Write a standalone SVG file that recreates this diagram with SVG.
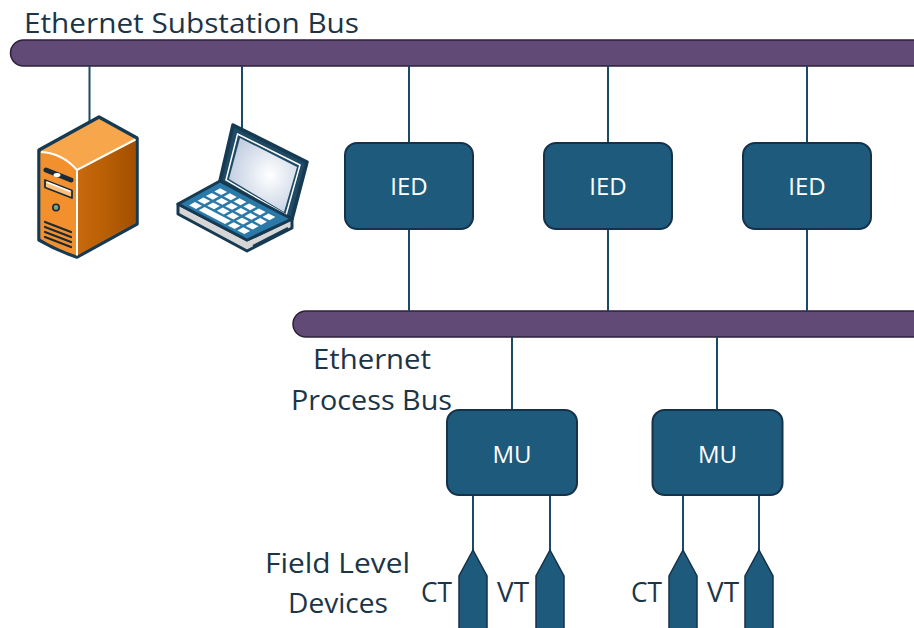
<svg xmlns="http://www.w3.org/2000/svg" width="914" height="628" viewBox="0 0 914 628">
  <defs>
    <style>
      .bus { fill: #614a75; stroke: #2c2138; stroke-width: 1.5; }
      .box { fill: #1e5a7c; stroke: #15324a; stroke-width: 2; }
      .wire { stroke: #1b4a66; stroke-width: 2; fill: none; }
      .lbl { font-family: "Open Sans", "Liberation Sans", sans-serif; fill: #1b3446; }
      .inbox { font-family: "Open Sans", "Liberation Sans", sans-serif; fill: #ffffff; font-size: 24px; text-anchor: middle; }
      .sensor { fill: #1e5a7c; stroke: #15324a; stroke-width: 1.5; }
      .dark { fill: none; stroke: #1b2a35; stroke-linecap: round; }
    </style>
    <linearGradient id="sideGrad" x1="0" y1="0" x2="1" y2="0">
      <stop offset="0" stop-color="#c96a0e"/>
      <stop offset="0.5" stop-color="#b85e04"/>
      <stop offset="1" stop-color="#a14f00"/>
    </linearGradient>
    <radialGradient id="screenGrad" cx="0.6" cy="0.5" r="0.6">
      <stop offset="0" stop-color="#ffffff"/>
      <stop offset="1" stop-color="#c3cfe2"/>
    </radialGradient>
  </defs>

  <!-- buses -->
  <g id="substation-bus">
    <rect class="bus" x="10.5" y="40" width="940" height="26" rx="13"/>
    <text class="lbl" x="24" y="33" font-size="27" textLength="335" lengthAdjust="spacingAndGlyphs">Ethernet Substation Bus</text>
  </g>
  <g id="process-bus">
    <rect class="bus" x="293" y="311" width="660" height="26" rx="13"/>
    <text class="lbl" x="313" y="369" font-size="27" textLength="118" lengthAdjust="spacingAndGlyphs">Ethernet</text>
    <text class="lbl" x="291" y="410" font-size="27" textLength="161" lengthAdjust="spacingAndGlyphs">Process Bus</text>
  </g>

  <!-- connectors -->
  <g id="connectors">
    <line class="wire" x1="89.5" y1="66" x2="89.5" y2="123"/>
    <line class="wire" x1="242" y1="66" x2="242" y2="128"/>
    <line class="wire" x1="409" y1="66" x2="409" y2="143"/>
    <line class="wire" x1="608" y1="66" x2="608" y2="143"/>
    <line class="wire" x1="807" y1="66" x2="807" y2="143"/>
    <line class="wire" x1="409" y1="229" x2="409" y2="311"/>
    <line class="wire" x1="608" y1="229" x2="608" y2="311"/>
    <line class="wire" x1="807" y1="229" x2="807" y2="311"/>
    <line class="wire" x1="512" y1="337" x2="512" y2="410"/>
    <line class="wire" x1="717" y1="337" x2="717" y2="410"/>
    <line class="wire" x1="473" y1="495" x2="473" y2="552"/>
    <line class="wire" x1="550" y1="495" x2="550" y2="552"/>
    <line class="wire" x1="683" y1="495" x2="683" y2="552"/>
    <line class="wire" x1="759" y1="495" x2="759" y2="552"/>
  </g>

  <!-- server tower -->
  <g id="server">
    <path d="M39,150 L99,117 L137,138 L137,224 L77,257 Q56,250 39,240 Z" fill="#f7a64c" stroke="#163a52" stroke-width="3.5" stroke-linejoin="round"/>
    <path d="M40.5,152 Q62,153 77,170 L77,255.5 Q56,248.5 40.5,238.5 Z" fill="#f3902e"/>
    <path d="M77,170 L135.5,139.5 L135.5,223 L77,255.5 Z" fill="url(#sideGrad)"/>
    <path d="M41,152 Q62,153 77,170 L135.5,139.5 M77,170 L77,255.5" fill="none" stroke="#ffffff" stroke-width="2"/>
    <line class="dark" x1="46" y1="170" x2="71" y2="180" stroke-width="5"/>
    <ellipse cx="57" cy="175" rx="3.5" ry="2" fill="#ffffff"/>
    <polygon points="45,180 72,190.5 72,198 45,187.5" fill="#f8c07a" stroke="#1b2a35" stroke-width="1.8" stroke-linejoin="round"/>
    <line x1="46.5" y1="182" x2="70.5" y2="191.5" stroke="#ffffff" stroke-width="1.5"/>
    <circle cx="56" cy="207.5" r="3.2" fill="#7e9e86" stroke="#1b2a35" stroke-width="1.6"/>
    <line class="dark" x1="45" y1="222" x2="71" y2="232" stroke-width="2.2"/>
    <line class="dark" x1="45" y1="227" x2="71" y2="237" stroke-width="2.2"/>
    <line class="dark" x1="45" y1="232" x2="71" y2="242" stroke-width="2.2"/>
    <line class="dark" x1="45" y1="237" x2="71" y2="247" stroke-width="2.2"/>
  </g>

  <!-- laptop -->
  <g id="laptop">
    <!-- base sides -->
    <path d="M178,204 L247,240 L292,219 L292,228 L247,251 L178,214 Z" fill="#d6d6d6" stroke="#163a52" stroke-width="3" stroke-linejoin="round"/>
    <line x1="253" y1="246" x2="288" y2="228" stroke="#163a52" stroke-width="2"/>
    <!-- lid -->
    <polygon points="233,125 307,162 292,219 220,181" fill="#1f4a66" stroke="#163a52" stroke-width="3.5" stroke-linejoin="round"/>
    <polygon points="237.5,134 300,165 286,215 226,180" fill="none" stroke="#ffffff" stroke-width="1.5"/>
    <polygon points="240,138 297,167 284,212 229,179" fill="url(#screenGrad)"/>
    <!-- keyboard deck -->
    <polygon points="178,204 220,181 292,219 247,240" fill="#2b79a8" stroke="#163a52" stroke-width="3" stroke-linejoin="round"/>
    <g transform="matrix(0.69,0.36,0.42,-0.23,178,204)" fill="#ffffff">
      <rect x="10" y="10" width="10" height="14"/>
      <rect x="24" y="10" width="38" height="14"/>
      <rect x="66" y="10" width="10" height="14"/>
      <rect x="80" y="10" width="10" height="14"/>
      <rect x="10" y="30" width="10" height="14"/>
      <rect x="24" y="30" width="10" height="14"/>
      <rect x="38" y="30" width="10" height="14"/>
      <rect x="52" y="30" width="10" height="14"/>
      <rect x="66" y="30" width="10" height="14"/>
      <rect x="80" y="30" width="10" height="14"/>
      <rect x="10" y="50" width="10" height="14"/>
      <rect x="24" y="50" width="10" height="14"/>
      <rect x="38" y="50" width="10" height="14"/>
      <rect x="52" y="50" width="10" height="14"/>
      <rect x="66" y="50" width="10" height="14"/>
      <rect x="80" y="50" width="10" height="14"/>
      <rect x="10" y="70" width="10" height="14"/>
      <rect x="24" y="70" width="10" height="14"/>
      <rect x="38" y="70" width="10" height="14"/>
      <rect x="52" y="70" width="10" height="14"/>
      <rect x="66" y="70" width="10" height="14"/>
      <rect x="80" y="70" width="10" height="14"/>
    </g>
  </g>

  <!-- IEDs -->
  <g id="ied-1">
    <rect class="box" x="345" y="143" width="128" height="86" rx="12"/>
    <text class="inbox" x="409" y="195">IED</text>
  </g>
  <g id="ied-2">
    <rect class="box" x="544" y="143" width="128" height="86" rx="12"/>
    <text class="inbox" x="608" y="195">IED</text>
  </g>
  <g id="ied-3">
    <rect class="box" x="743" y="143" width="128" height="86" rx="12"/>
    <text class="inbox" x="807" y="195">IED</text>
  </g>

  <!-- merging units -->
  <g id="mu-1">
    <rect class="box" x="447" y="410" width="130" height="85" rx="12"/>
    <text class="inbox" x="512" y="463">MU</text>
  </g>
  <g id="mu-2">
    <rect class="box" x="652.5" y="410" width="130" height="85" rx="12"/>
    <text class="inbox" x="717.5" y="463">MU</text>
  </g>

  <!-- field level devices -->
  <g id="field-label">
    <text class="lbl" x="265" y="573" font-size="27" textLength="145" lengthAdjust="spacingAndGlyphs">Field Level</text>
    <text class="lbl" x="288" y="613" font-size="27" textLength="100" lengthAdjust="spacingAndGlyphs">Devices</text>
  </g>
  <g id="ct-1">
    <polygon class="sensor" points="473,550 487,576 487,632 459,632 459,576"/>
    <text class="lbl" x="421" y="602" font-size="28" textLength="31" lengthAdjust="spacingAndGlyphs">CT</text>
  </g>
  <g id="vt-1">
    <polygon class="sensor" points="550,550 564,576 564,632 536,632 536,576"/>
    <text class="lbl" x="497" y="602" font-size="28" textLength="32" lengthAdjust="spacingAndGlyphs">VT</text>
  </g>
  <g id="ct-2">
    <polygon class="sensor" points="683,550 697,576 697,632 669,632 669,576"/>
    <text class="lbl" x="631" y="602" font-size="28" textLength="31" lengthAdjust="spacingAndGlyphs">CT</text>
  </g>
  <g id="vt-2">
    <polygon class="sensor" points="759,550 773,576 773,632 745,632 745,576"/>
    <text class="lbl" x="707" y="602" font-size="28" textLength="32" lengthAdjust="spacingAndGlyphs">VT</text>
  </g>
</svg>
